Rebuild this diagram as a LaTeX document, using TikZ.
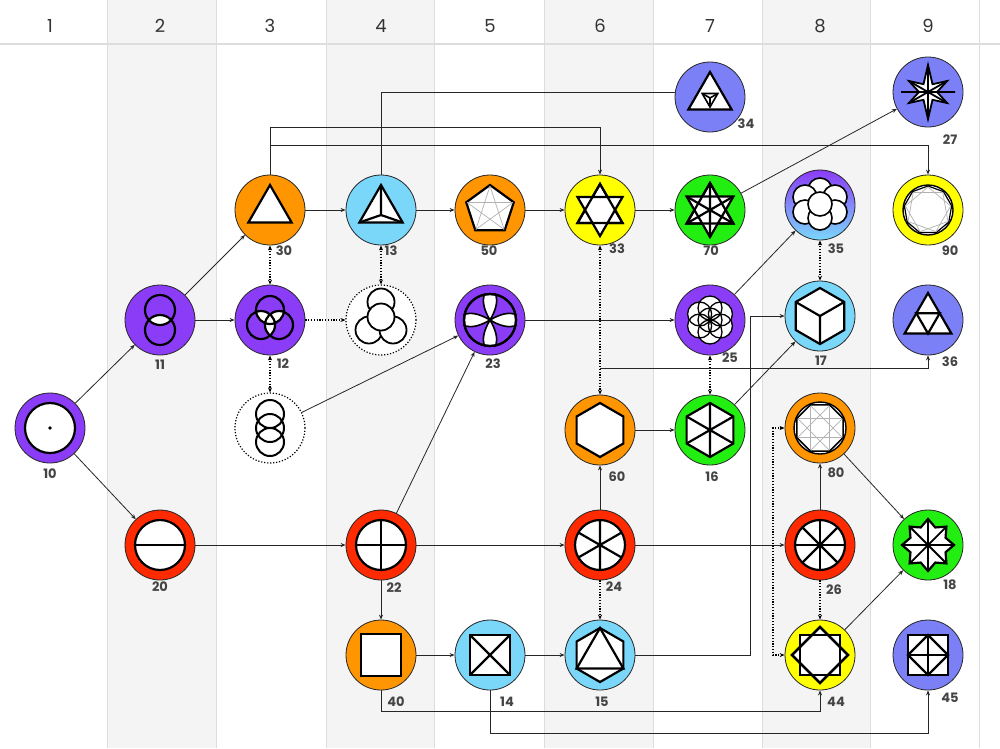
\documentclass[tikz,border=0pt]{standalone}
\usepackage{fontspec}
\setmainfont{Poppins}
\usetikzlibrary{arrows.meta}
\definecolor{purp}{HTML}{8B3CF7}
\definecolor{orng}{HTML}{FF9500}
\definecolor{lblu}{HTML}{7AD7FA}
\definecolor{yel}{HTML}{FFFF00}
\definecolor{grn}{HTML}{22EE11}
\definecolor{redd}{HTML}{FF2A00}
\definecolor{peri}{HTML}{7B80F7}
\definecolor{band}{HTML}{F4F4F4}
\definecolor{sep}{HTML}{DDDDDD}
\definecolor{lab}{HTML}{444444}
\newcommand\Sym[2]{\begin{scope}[shift={(#1)},yscale=-1,line width=2.2pt,line join=miter]#2\end{scope}}
\begin{document}
\begin{tikzpicture}[x=1pt,y=-1pt,
  nd/.style={circle,draw=black!85,line width=0.8pt,minimum size=70pt,inner sep=0pt},
  dnd/.style={circle,draw=black,line width=1.2pt,dash pattern=on 1.2pt off 1.8pt,minimum size=70pt,inner sep=0pt,fill=white},
  lbl/.style={font=\bfseries\fontsize{13}{13}\selectfont,text=lab,inner sep=0pt},
  hdr/.style={font=\fontsize{18}{18}\selectfont,text=black!80,inner sep=0pt},
  con/.style={draw=black!85,line width=0.8pt},
  arr/.style={con,-{Stealth[length=5pt,width=4pt]}},
  dot/.style={draw=black,line width=1.3pt,dash pattern=on 1.2pt off 1.6pt},
  darr/.style={dot,{Stealth[length=5pt,width=4pt]}-{Stealth[length=5pt,width=4pt]}},
  dar/.style={dot,-{Stealth[length=5pt,width=4pt]}}]
\useasboundingbox (0,0) rectangle (1000,748);
\fill[white] (0,0) rectangle (1000,748);
\foreach \a/\b in {107/216,326/434,544/653,762/870}{\fill[band] (\a,0) rectangle (\b,748);}
\foreach \x in {107,216,326,434,544,653,762,870,979}{\draw[sep,line width=1pt] (\x,0) -- (\x,748);}
\draw[sep,line width=1.2pt] (0,44) -- (1000,44);
\foreach \i/\x in {1/50,2/160,3/270,4/381,5/490,6/600,7/710,8/820,9/928}{\node[hdr] (h\i) at (\x,26) {\i};}

% nodes
\node[nd,fill=purp] (n10) at (50,428) {};
\node[nd,fill=purp] (n11) at (160,320) {};
\node[nd,fill=redd] (n20) at (160,545) {};
\node[nd,fill=orng] (n30) at (270,210) {};
\node[nd,fill=purp] (n12) at (270,320) {};
\node[dnd] (d3) at (270,428) {};
\node[nd,fill=lblu] (n13) at (381,210) {};
\node[dnd] (d4) at (381,320) {};
\node[nd,fill=redd] (n22) at (381,545) {};
\node[nd,fill=orng] (n40) at (381,655) {};
\node[nd,fill=orng] (n50) at (490,210) {};
\node[nd,fill=purp] (n23) at (490,320) {};
\node[nd,fill=lblu] (n14) at (490,655) {};
\node[nd,fill=yel] (n33) at (600,210) {};
\node[nd,fill=orng] (n60) at (600,430) {};
\node[nd,fill=redd] (n24) at (600,545) {};
\node[nd,fill=lblu] (n15) at (600,655) {};
\node[nd,fill=peri] (n34) at (710,97) {};
\node[nd,fill=grn] (n70) at (710,210) {};
\node[nd,fill=purp] (n25) at (710,320) {};
\node[nd,fill=grn] (n16) at (710,430) {};
\node[nd,top color=purp,bottom color=lblu] (n35) at (820,205) {};
\node[nd,fill=lblu] (n17) at (820,316) {};
\node[nd,fill=orng] (n80) at (820,428) {};
\node[nd,fill=redd] (n26) at (820,545) {};
\node[nd,fill=yel] (n44) at (820,655) {};
\node[nd,fill=peri] (n27) at (928,92) {};
\node[nd,fill=yel] (n90) at (928,210) {};
\node[nd,fill=peri] (n36) at (928,320) {};
\node[nd,fill=grn] (n18) at (928,545) {};
\node[nd,fill=peri] (n45) at (928,655) {};

% symbols
\Sym{n10}{\draw[fill=white] (0,0) circle (25); \fill (0,0) circle (1.8);}
\Sym{n11}{\begin{scope}\clip (0,10) circle (15); \fill[white] (0,-10) circle (15);\end{scope}
  \draw (0,10) circle (15) (0,-10) circle (15);}
\Sym{n12}{\foreach \p/\q in {{(0,10)}/{(-9,-5)},{(0,10)}/{(9,-5)},{(-9,-5)}/{(9,-5)}}{\begin{scope}\clip \p circle (14); \fill[white] \q circle (14);\end{scope}}
  \draw (0,10) circle (14) (-9,-5) circle (14) (9,-5) circle (14);}
\Sym{d3}{\draw[line width=2pt] (0,14) circle (14) (0,0) circle (14) (0,-14) circle (14);}
\Sym{d4}{\draw[line width=1.8pt,fill=white] (-12,-10) circle (13.5); \draw[line width=1.8pt,fill=white] (12,-10) circle (13.5);
  \draw[line width=1.8pt,fill=white] (0,18) circle (13.5); \draw[line width=1.8pt,fill=white] (0,3) circle (13.5);}
\Sym{n20}{\draw[fill=white] (0,0) circle (25); \draw (-25,0) -- (25,0);}
\Sym{n30}{\draw[fill=white] (90:25) -- (210:25) -- (330:25) -- cycle;}
\Sym{n13}{\draw[fill=white] (90:25) -- (210:25) -- (330:25) -- cycle; \draw (90:25) -- (0,-5) -- (210:25) (0,-5) -- (330:25);}
\Sym{n22}{\draw[fill=white] (0,0) circle (25); \draw (-25,0) -- (25,0) (0,-25) -- (0,25);}
\Sym{n40}{\draw[fill=white] (-20,-21) rectangle (20,21);}
\Sym{n14}{\draw[fill=white] (-20,-20) rectangle (20,20); \draw (-20,-20) -- (20,20) (-20,20) -- (20,-20);}
\Sym{n50}{\draw[fill=white] (90:25) \foreach \a in {162,234,306,378}{ -- (\a:25)} -- cycle;
  \foreach \i in {0,...,4}{\draw[gray!60,line width=0.7pt] (90+\i*72:24) -- (90+\i*72+144:24);}}
\Sym{n23}{\draw[fill=white] (0,0) circle (26);
  \foreach \r in {45,135,225,315}{\draw[rotate=\r,fill=purp,line width=1.6pt] (0,0) .. controls (12,3) and (19,8) .. (32:26) arc (32:-32:26) .. controls (19,-8) and (12,-3) .. (0,0);}
  \draw (0,0) circle (26); \fill (0,0) circle (2);}
\Sym{n33}{\draw[fill=white] (90:26) -- (210:26) -- (330:26) -- cycle; \draw[fill=white] (270:26) -- (30:26) -- (150:26) -- cycle;
  \draw (90:26) -- (210:26) -- (330:26) -- cycle;}
\Sym{n60}{\draw[fill=white] (90:27) \foreach \a in {150,210,270,330,390}{ -- (\a:27)} -- cycle;}
\Sym{n24}{\draw[fill=white] (0,0) circle (25); \draw (90:25) -- (270:25) (30:25) -- (210:25) (150:25) -- (330:25);}
\Sym{n15}{\draw[fill=white] (90:27) \foreach \a in {150,210,270,330,390}{ -- (\a:27)} -- cycle; \draw (90:27) -- (210:27) -- (330:27) -- cycle;}
\Sym{n34}{\draw[fill=white] (90:25) -- (210:25) -- (330:25) -- cycle;
  \begin{scope}[shift={(0,-1)},line width=1.6pt]\draw (30:9) -- (150:9) -- (270:9) -- cycle; \draw (0,0) -- (30:9) (0,0) -- (150:9) (0,0) -- (270:9);\end{scope}}
\Sym{n70}{\draw[fill=white] (90:27) -- (210:27) -- (330:27) -- cycle; \draw[fill=white] (270:27) -- (30:27) -- (150:27) -- cycle;
  \draw (90:27) -- (210:27) -- (330:27) -- cycle; \draw (90:27) -- (270:27) (30:27) -- (210:27) (150:27) -- (330:27);}
\Sym{n25}{\foreach \a in {90,150,...,420}{\fill[white] (\a:12) circle (12);}
  \foreach \a in {90,150,...,420}{\draw[line width=1.3pt] (\a:12) circle (12);} \draw[line width=1.3pt] (0,0) circle (12); \fill (0,0) circle (2.2);}
\Sym{n16}{\draw[fill=white] (90:27) \foreach \a in {150,210,270,330,390}{ -- (\a:27)} -- cycle; \draw (90:27) -- (270:27) (30:27) -- (210:27) (150:27) -- (330:27);}
\Sym{n35}{\foreach \p in {(0,15),(-15,8),(15,8),(-15,-7),(15,-7)}{\draw[line width=1.6pt,fill=white] \p circle (12);}
  \draw[line width=1.6pt,fill=white] (0,-13) circle (12); \draw[line width=1.6pt,fill=white] (0,1) circle (12);}
\Sym{n17}{\draw[fill=white] (90:28) \foreach \a in {150,210,270,330,390}{ -- (\a:28)} -- cycle; \draw (0,0) -- (150:28) (0,0) -- (30:28) (0,0) -- (270:28);}
\Sym{n80}{\draw[fill=white,line width=1.4pt] (0,0) circle (26); \draw[fill=white,line width=1.6pt] (22.5:25) \foreach \k in {1,...,7}{ -- (22.5+45*\k:25)} -- cycle;
  \foreach \k in {0,...,7}{\draw[gray!60,line width=0.7pt] (22.5+45*\k:24) -- (22.5+45*\k+135:24);}}
\Sym{n26}{\draw[fill=white] (0,0) circle (25); \foreach \a in {0,45,90,135}{\draw (\a:25) -- (\a+180:25);}}
\Sym{n44}{\draw[fill=white] (-20,-20) rectangle (20,20); \draw[fill=white] (0,28) -- (28,0) -- (0,-28) -- (-28,0) -- cycle; \draw (-20,-20) rectangle (20,20);
  \draw (0,28) -- (28,0) -- (0,-28) -- (-28,0) -- cycle;}
\Sym{n27}{\draw[fill=white,line width=1.8pt] (90:27) -- (120:9) -- (150:22) -- (180:9) -- (210:22) -- (240:9) -- (270:27) -- (300:9) -- (330:22) -- (0:9) -- (30:22) -- (60:9) -- cycle;
  \draw[line width=1.8pt] (90:27) -- (270:27) (150:22) -- (330:22) (30:22) -- (210:22) (-27,0) -- (27,0);}
\Sym{n90}{\draw[fill=white,line width=1.4pt] (0,0) circle (25); \draw[line width=1.2pt] (90:24) \foreach \k in {1,...,8}{ -- (90+40*\k:24)} -- cycle;
  \foreach \k in {0,...,8}{\draw[gray!60,line width=0.7pt] (90+40*\k:23) -- (90+40*\k+80:23);}}
\Sym{n36}{\draw[fill=white] (90:27) -- (210:27) -- (330:27) -- cycle; \draw (150:13.5) -- (30:13.5) -- (270:13.5) -- cycle;}
\Sym{n18}{\draw[fill=white] (90:26) \foreach \k in {1,...,15}{ -- (90+22.5*\k:{ifthenelse(mod(\k,2)==0,26,19)})} -- cycle;
  \foreach \a in {0,45,90,135}{\draw[line width=1.8pt] (\a:26) -- (\a+180:26);} \fill (0,0) circle (2);}
\Sym{n45}{\draw[fill=white] (-20,-20) rectangle (20,20); \draw (0,20) -- (20,0) -- (0,-20) -- (-20,0) -- cycle; \draw (-20,0) -- (20,0) (0,-20) -- (0,20);}

% labels
\node[lbl] (l10) at (50,474) {10};
\node[lbl] (l11) at (160,365) {11};
\node[lbl] (l20) at (160,587) {20};
\node[lbl] (l30) at (284,251) {30};
\node[lbl] (l12) at (283,364) {12};
\node[lbl] (l13) at (391,251) {13};
\node[lbl] (l22) at (394,588) {22};
\node[lbl] (l40) at (396,702) {40};
\node[lbl] (l50) at (489,251) {50};
\node[lbl] (l23) at (493,364) {23};
\node[lbl] (l14) at (507,702) {14};
\node[lbl] (l33) at (617,249) {33};
\node[lbl] (l60) at (617,477) {60};
\node[lbl] (l24) at (614,587) {24};
\node[lbl] (l15) at (602,702) {15};
\node[lbl] (l34) at (746,124) {34};
\node[lbl] (l70) at (711,251) {70};
\node[lbl] (l25) at (730,358) {25};
\node[lbl] (l16) at (712,477) {16};
\node[lbl] (l35) at (836,249) {35};
\node[lbl] (l17) at (821,361) {17};
\node[lbl] (l80) at (836,473) {80};
\node[lbl] (l26) at (834,590) {26};
\node[lbl] (l44) at (836,702) {44};
\node[lbl] (l27) at (950,140) {27};
\node[lbl] (l90) at (950,251) {90};
\node[lbl] (l36) at (950,362) {36};
\node[lbl] (l18) at (950,585) {18};
\node[lbl] (l45) at (950,698) {45};

% bend coordinates
\coordinate (b1) at (270,127);
\coordinate (b2) at (270,145);
\coordinate (b3) at (381,92);
\coordinate (j60) at (600,368);
\coordinate (k1) at (750,655);
\coordinate (k2) at (381,711);
\coordinate (k3) at (490,733);
\coordinate (m1) at (773,428);
\coordinate (m2) at (773,655);

% connectors
\draw[arr] (n10) -- (n11);
\draw[arr] (n10) -- (n20);
\draw[arr] (n11) -- (n30);
\draw[arr] (n11) -- (n12);
\draw[arr] (n30) -- (n13);
\draw[arr] (n13) -- (n50);
\draw[arr] (n50) -- (n33);
\draw[arr] (n33) -- (n70);
\draw[arr] (n70) -- (n27);
\draw[arr] (n30.north) -- (b1) -| (n33.north);
\draw[arr] (n30.north) -- (b2) -| (n90.north);
\draw[con] (n13.north) -- (b3) -- (n34.west |- b3);
\draw[darr] (n30) -- (n12);
\draw[darr] (n12) -- (d3);
\draw[darr] (n13) -- (d4);
\draw[dar] (n12) -- (d4);
\draw[arr] (d3) -- (n23);
\draw[arr] (n22) -- (n23);
\draw[arr] (n23) -- (n25);
\draw[darr] (n33) -- (n60);
\draw[arr] (j60) -| (n36.south);
\draw[arr] (n60) -- (n16);
\draw[darr] (n25) -- (n16);
\draw[arr] (n25) -- (n35);
\draw[arr] (n16) -- (n17);
\draw[darr] (n35) -- (n17);
\draw[arr] (n15.east) -- (k1) |- (n17.west);
\draw[arr] (n20) -- (n22);
\draw[arr] (n22) -- (n24);
\draw[arr] (n24) -- (n26);
\draw[arr] (n24) -- (n60);
\draw[arr] (n22) -- (n40);
\draw[dar] (n24) -- (n15);
\draw[arr] (n26) -- (n80);
\draw[dar] (n26) -- (n44);
\draw[arr] (n80) -- (n18);
\draw[arr] (n44) -- (n18);
\draw[arr] (n40) -- (n14);
\draw[arr] (n14) -- (n15);
\draw[darr] (n80.west) -- (m1) -- (m2) -- (n44.west);
\draw[arr] (n40.south) -- (k2) -| (n44.south);
\draw[arr] (n14.south) -- (k3) -| (n45.south);
\end{tikzpicture}
\end{document}
